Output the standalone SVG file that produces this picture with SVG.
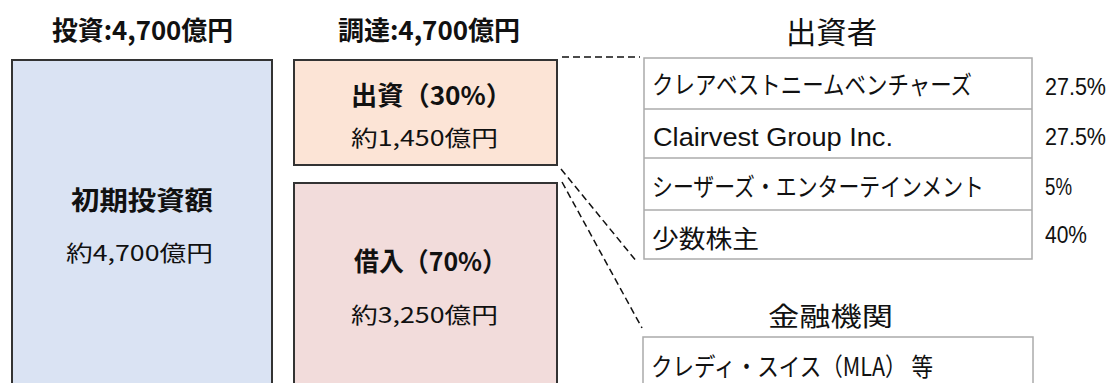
<svg xmlns="http://www.w3.org/2000/svg" width="1110" height="383" viewBox="0 0 1110 383">
<style>
.jp{font-family:"Noto Sans CJK JP","Noto Sans",sans-serif;fill:#111}
.lat{font-family:"Liberation Sans",Arial,sans-serif;fill:#111}
.b{font-weight:bold}
.box{stroke:#333;stroke-width:2}
.tbl{fill:#fff;stroke:#ababab;stroke-width:1.5}
.dash{stroke:#111;stroke-width:1.5;stroke-dasharray:7 4;fill:none}
</style>
<rect width="1110" height="383" fill="#fff"/>
<g id="titles">
<text class="jp b" x="52" y="40" font-size="26" textLength="181" lengthAdjust="spacingAndGlyphs">投資:4,700億円</text>
<text class="jp b" x="338" y="40" font-size="26" textLength="182" lengthAdjust="spacingAndGlyphs">調達:4,700億円</text>
<text class="jp" x="786" y="43" font-size="30" textLength="91" lengthAdjust="spacingAndGlyphs">出資者</text>
<text class="jp" x="768" y="326" font-size="26" textLength="125" lengthAdjust="spacingAndGlyphs">金融機関</text>
</g>
<g id="connectors">
<line class="dash" x1="562" y1="57" x2="640" y2="57"/>
<line class="dash" x1="561" y1="169" x2="637" y2="262"/>
<line class="dash" x1="562" y1="182" x2="642" y2="328"/>
</g>
<g id="initial">
<rect class="box" x="12" y="60" width="260" height="340" fill="#dae3f3"/>
<text class="jp b" x="71" y="210" font-size="26" textLength="142" lengthAdjust="spacingAndGlyphs">初期投資額</text>
<text class="jp" x="66" y="261" font-size="22" textLength="147" lengthAdjust="spacingAndGlyphs">約4,700億円</text>
</g>
<g id="equity">
<rect class="box" x="294" y="60" width="263" height="105" fill="#fce4d6"/>
<text class="jp b" x="351" y="105" font-size="26" textLength="161" lengthAdjust="spacingAndGlyphs">出資（30%）</text>
<text class="jp" x="351" y="146" font-size="22" textLength="147" lengthAdjust="spacingAndGlyphs">約1,450億円</text>
</g>
<g id="debt">
<rect class="box" x="294" y="183" width="263" height="220" fill="#f2dcdb"/>
<text class="jp b" x="354" y="271" font-size="26" textLength="153" lengthAdjust="spacingAndGlyphs">借入（70%）</text>
<text class="jp" x="351" y="323" font-size="22" textLength="147" lengthAdjust="spacingAndGlyphs">約3,250億円</text>
</g>
<g id="investors">
<rect class="tbl" x="644" y="58" width="388" height="201"/>
<line x1="644" y1="109" x2="1032" y2="109" stroke="#ababab" stroke-width="1.5"/>
<line x1="644" y1="158" x2="1032" y2="158" stroke="#ababab" stroke-width="1.5"/>
<line x1="644" y1="210" x2="1032" y2="210" stroke="#ababab" stroke-width="1.5"/>
<text class="jp" x="652" y="94" font-size="25" textLength="320" lengthAdjust="spacingAndGlyphs">クレアベストニームベンチャーズ</text>
<text class="lat" x="653" y="146" font-size="26" textLength="240" lengthAdjust="spacingAndGlyphs">Clairvest Group Inc.</text>
<text class="jp" x="652" y="196" font-size="25" textLength="332" lengthAdjust="spacingAndGlyphs">シーザーズ・エンターテインメント</text>
<text class="jp" x="652" y="248" font-size="25" textLength="107" lengthAdjust="spacingAndGlyphs">少数株主</text>
<text class="lat" x="1045" y="95" font-size="23" textLength="61" lengthAdjust="spacingAndGlyphs">27.5%</text>
<text class="lat" x="1045" y="145" font-size="23" textLength="61" lengthAdjust="spacingAndGlyphs">27.5%</text>
<text class="lat" x="1045" y="195" font-size="23" textLength="27" lengthAdjust="spacingAndGlyphs">5%</text>
<text class="lat" x="1045" y="243" font-size="23" textLength="42" lengthAdjust="spacingAndGlyphs">40%</text>
</g>
<g id="lenders">
<rect class="tbl" x="643" y="337" width="390" height="70"/>
<text class="jp" x="651" y="376" font-size="25" textLength="282" lengthAdjust="spacingAndGlyphs">クレディ・スイス（MLA） 等</text>
</g>
</svg>
